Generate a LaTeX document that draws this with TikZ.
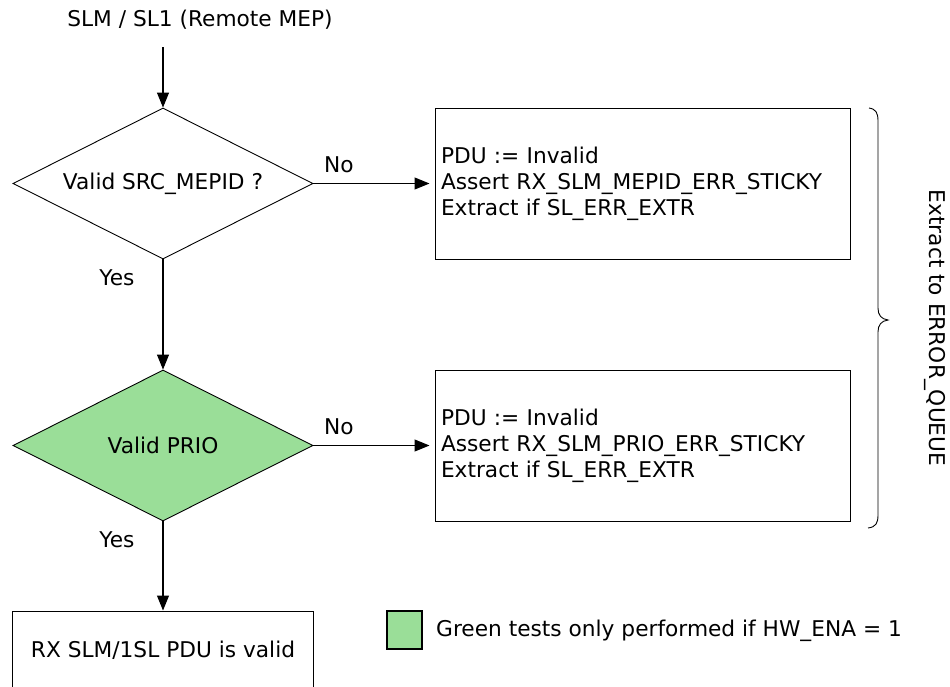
\documentclass[tikz,border=0pt]{standalone}
\usepackage{fontspec}
\setmainfont{DejaVu Sans}
\usetikzlibrary{arrows.meta,shapes.geometric}
\definecolor{testgreen}{RGB}{154,222,152}
\begin{document}
\begin{tikzpicture}[x=1pt,y=-1pt,
  every node/.style={font=\fontsize{21.7}{26}\selectfont},
  arr/.style={line width=1.1pt,-{Triangle[length=15pt,width=12pt]}},
  decision/.style={diamond,draw,line width=0.9pt,shape aspect=2,minimum width=300pt,minimum height=151pt,inner sep=0pt},
  actionbox/.style={rectangle,draw,line width=1pt,minimum width=415pt,minimum height=151pt,text width=403pt,inner xsep=6pt,align=left},
  plainlabel/.style={inner sep=0pt}]
\useasboundingbox (0,0) rectangle (950,686);
\node[plainlabel] (title) at (200,20) {SLM / SL1 (Remote MEP)};
\coordinate (start) at (163,47);
\node[decision] (d1) at (163,183.5) {Valid SRC\_MEPID ?};
\node[decision,fill=testgreen] (d2) at (163,445.5) {Valid PRIO};
\node[actionbox] (b1) at (642.5,183.5) {PDU := Invalid\\Assert RX\_SLM\_MEPID\_ERR\_STICKY\\Extract if SL\_ERR\_EXTR};
\node[actionbox] (b2) at (642.5,445.5) {PDU := Invalid\\Assert RX\_SLM\_PRIO\_ERR\_STICKY\\Extract if SL\_ERR\_EXTR};
\node[rectangle,draw,line width=1pt,minimum width=301pt,minimum height=78pt] (b3) at (163,650) {RX SLM/1SL PDU is valid};
\draw[arr] (start) -- (d1.north);
\draw[arr,shorten >=5pt] (d1.east) -- (b1.west);
\draw[arr] (d1.south) -- (d2.north);
\draw[arr,shorten >=5pt] (d2.east) -- (b2.west);
\draw[arr] (d2.south) -- (b3.north);
\node[plainlabel] (no1) at (339,165) {No};
\node[plainlabel] (no2) at (339,427) {No};
\node[plainlabel] (yes1) at (117,278) {Yes};
\node[plainlabel] (yes2) at (117,540) {Yes};
\draw[line width=0.9pt] (869,108) .. controls (876,109) and (878,113) .. (878,121) -- (878,308)
  .. controls (878,315) and (881,319) .. (888,320) .. controls (881,321) and (878,325) .. (878,332)
  -- (878,515) .. controls (878,523) and (876,527) .. (868,528);
\node[plainlabel,rotate=-90] (extract) at (935,328) {Extract to ERROR\_QUEUE};
\node[rectangle,draw,line width=1.6pt,fill=testgreen,minimum width=35pt,minimum height=38pt,inner sep=0pt] (legend) at (404.5,630) {};
\node[plainlabel,anchor=west] (legendtext) at (436,631) {Green tests only performed if HW\_ENA = 1};
\end{tikzpicture}
\end{document}
